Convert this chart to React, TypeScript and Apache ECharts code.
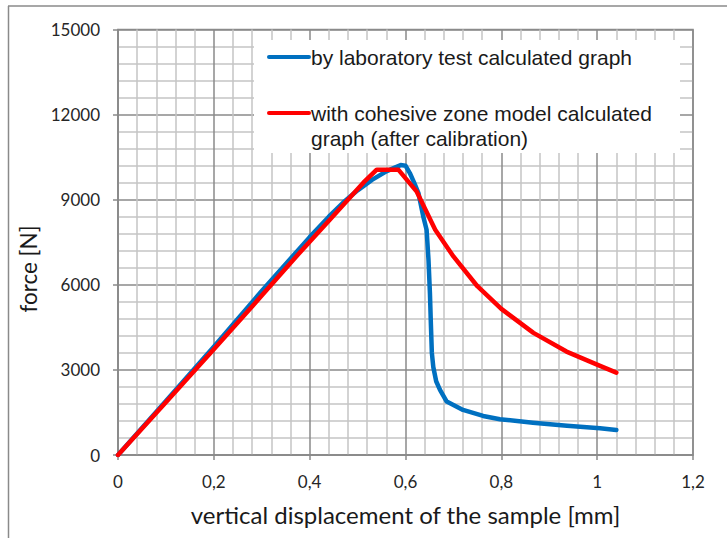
import React, { useEffect, useRef } from "react";
import * as echarts from "echarts";

const xTicks = [0, 0.2, 0.4, 0.6, 0.8, 1, 1.2];
const yTicks = [0, 3000, 6000, 9000, 12000, 15000];

const labDisp = [0, 0.1, 0.2, 0.3, 0.4, 0.44, 0.47, 0.5, 0.53, 0.56, 0.58, 0.59, 0.6, 0.609, 0.618, 0.627, 0.637, 0.644, 0.648, 0.651, 0.653, 0.655, 0.658, 0.664, 0.672, 0.686, 0.72, 0.762, 0.797, 0.866, 0.937, 1.006, 1.04];
const labForce = [0, 1900, 3820, 5780, 7680, 8400, 8900, 9330, 9700, 10000, 10150, 10220, 10200, 9940, 9600, 9236, 8412, 7942, 6880, 5700, 4600, 3600, 3100, 2600, 2294, 1882, 1588, 1376, 1260, 1140, 1034, 941, 882];

const czmDisp = [0, 0.1, 0.2, 0.3, 0.38, 0.442, 0.512, 0.54, 0.585, 0.623, 0.662, 0.7, 0.75, 0.8, 0.867, 0.936, 1.006, 1.04];
const czmForce = [0, 1860, 3730, 5620, 7150, 8295, 9600, 10060, 10060, 9294, 7942, 7000, 5950, 5150, 4306, 3646, 3141, 2905];

const labName = "by laboratory test calculated graph";
const czmName1 = "with cohesive zone model calculated";
const czmName2 = "graph (after calibration)";
const xTitle = "vertical displacement of the sample [mm]";
const yTitle = "force [N]";

export default function App() {
  const ref = useRef<HTMLDivElement>(null);
  useEffect(() => {
    const chart = echarts.init(ref.current!, undefined, { renderer: "svg" });
    const labData = labDisp.map((d, i) => [d, labForce[i]]);
    const czmData = czmDisp.map((d, i) => [d, czmForce[i]]);
    const major = "#8a8a8a";
    const minor = "#c4c4c4";
    const tickFont = { fontFamily: "Lato", fontSize: 17, color: "#262626" };
    const legFont = { fontFamily: "Liberation Sans", fontSize: 21, fill: "#1a1a1a", verticalAlign: "middle", align: "left" };
    chart.setOption({
      animation: false,
      backgroundColor: "#ffffff",
      grid: { left: 118, right: 34, top: 29.5, bottom: 83, show: true, borderColor: major, borderWidth: 1.5 },
      xAxis: {
        type: "value",
        min: xTicks[0],
        max: xTicks[xTicks.length - 1],
        interval: 0.2,
        name: xTitle,
        nameLocation: "middle",
        nameGap: 47,
        nameTextStyle: { fontFamily: "Lato", fontSize: 24, color: "#1a1a1a" },
        axisLine: { show: true, lineStyle: { color: major, width: 1.5 } },
        axisTick: { show: true, length: 5, lineStyle: { color: major, width: 1.5 } },
        axisLabel: { ...tickFont, margin: 18, formatter: (v: number) => String(Math.round(v * 10) / 10).replace(".", ",") },
        splitLine: { show: true, lineStyle: { color: major, width: 1.5 } },
        minorTick: { show: false, splitNumber: 5 },
        minorSplitLine: { show: true, lineStyle: { color: minor, width: 1.5 } },
      },
      yAxis: {
        type: "value",
        min: yTicks[0],
        max: yTicks[yTicks.length - 1],
        interval: 3000,
        axisLine: { show: true, lineStyle: { color: major, width: 1.5 } },
        axisTick: { show: true, length: 5, lineStyle: { color: major, width: 1.5 } },
        axisLabel: { ...tickFont, margin: 18, formatter: (v: number) => String(Math.round(v)) },
        splitLine: { show: true, lineStyle: { color: major, width: 1.5 } },
        minorTick: { show: false, splitNumber: 5 },
        minorSplitLine: { show: true, lineStyle: { color: minor, width: 1.5 } },
      },
      series: [
        {
          name: labName,
          type: "line",
          data: labData,
          showSymbol: false,
          symbol: "none",
          lineStyle: { color: "#0070C0", width: 4.5, cap: "round", join: "round" },
          z: 3,
        },
        {
          name: czmName1 + " " + czmName2,
          type: "line",
          data: czmData,
          showSymbol: false,
          symbol: "none",
          lineStyle: { color: "#FF0000", width: 4.5, cap: "round", join: "round" },
          z: 4,
        },
      ],
      graphic: [
        { type: "line", shape: { x1: 8.5, y1: 6, x2: 8.5, y2: 538 }, style: { stroke: "#8a8a8a", lineWidth: 1.5 } },
        { type: "line", shape: { x1: 8, y1: 6, x2: 727, y2: 6 }, style: { stroke: "#8a8a8a", lineWidth: 1.5 } },
        { type: "rect", shape: { x: 254, y: 40, width: 426, height: 113 }, style: { fill: "#ffffff" }, z: 10 },
        { type: "line", shape: { x1: 269, y1: 57, x2: 309, y2: 57 }, style: { stroke: "#0070C0", lineWidth: 4, lineCap: "round" }, z: 11 },
        { type: "line", shape: { x1: 269, y1: 113, x2: 309, y2: 113 }, style: { stroke: "#FF0000", lineWidth: 4, lineCap: "round" }, z: 11 },
        { type: "text", x: 311, y: 57, style: { text: labName, ...legFont }, z: 11 },
        { type: "text", x: 311, y: 113, style: { text: czmName1, ...legFont }, z: 11 },
        { type: "text", x: 311, y: 138, style: { text: czmName2, ...legFont }, z: 11 },
        { type: "text", x: 28, y: 269, rotation: Math.PI / 2, style: { text: yTitle, fontFamily: "Lato", fontSize: 22.5, fill: "#1a1a1a", verticalAlign: "middle", align: "center" }, z: 11 },
      ],
    });
    return () => chart.dispose();
  }, []);
  return <div ref={ref} style={{ position: "fixed", left: 0, top: 0, width: 727, height: 538 }} />;
}
